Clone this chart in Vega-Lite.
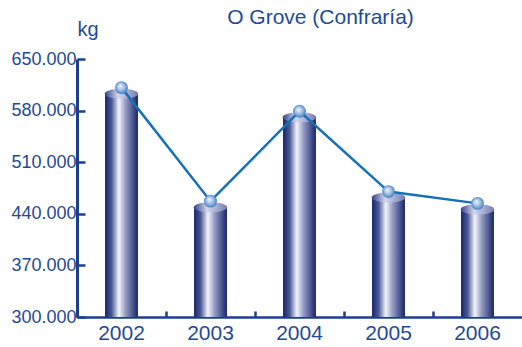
{
  "$schema": "https://vega.github.io/schema/vega-lite/v6.json",
  "width": 445,
  "height": 258,
  "autosize": "none",
  "padding": {"left": 77, "top": 59, "right": 0, "bottom": 30},
  "background": "white",
  "title": {
    "text": "O Grove (Confraría)",
    "anchor": "middle",
    "dx": 21,
    "offset": -26,
    "baseline": "alphabetic",
    "font": "Liberation Sans",
    "fontSize": 21,
    "fontWeight": "normal",
    "color": "#1f4a98"
  },
  "config": {
    "view": {"stroke": null},
    "font": "Liberation Sans"
  },
  "data": {
    "values": [
      {"year": "2002", "kg": 603000},
      {"year": "2003", "kg": 449000},
      {"year": "2004", "kg": 571000},
      {"year": "2005", "kg": 462000},
      {"year": "2006", "kg": 446000}
    ]
  },
  "encoding": {
    "x": {
      "field": "year",
      "type": "ordinal",
      "scale": {"paddingInner": 0, "paddingOuter": 0},
      "axis": {
        "title": null,
        "labelAngle": 0,
        "labelFontSize": 21,
        "labelColor": "#1f4a98",
        "labelPadding": 11,
        "bandPosition": 0,
        "tickSize": -6,
        "tickWidth": 2.5,
        "tickColor": "#1b3f8c",
        "domainColor": "#1b3f8c",
        "domainWidth": 2.5,
        "grid": false
      }
    },
    "y": {
      "field": "kg",
      "type": "quantitative",
      "scale": {"domain": [300000, 650000], "zero": false, "nice": false},
      "axis": {
        "title": "kg",
        "titleAngle": 0,
        "titleX": 0,
        "titleY": -24,
        "titleAlign": "left",
        "titleBaseline": "alphabetic",
        "titleFontSize": 20,
        "titleFontWeight": "normal",
        "titleColor": "#1f4a98",
        "values": [300000, 370000, 440000, 510000, 580000, 650000],
        "labelExpr": "format(datum.value / 1000, 'd') + '.000'",
        "labelFontSize": 18,
        "labelColor": "#1f4a98",
        "labelPadding": 9,
        "tickSize": -8,
        "tickWidth": 2.5,
        "tickColor": "#1b3f8c",
        "domainColor": "#1b3f8c",
        "domainWidth": 3,
        "grid": false
      }
    }
  },
  "layer": [
    {
      "mark": {
        "type": "bar",
        "width": {"band": 0.37},
        "color": {
          "gradient": "linear",
          "x1": 0, "y1": 0, "x2": 1, "y2": 0,
          "stops": [
            {"offset": 0, "color": "#17256a"},
            {"offset": 0.2, "color": "#4a5994"},
            {"offset": 0.42, "color": "#f4f5fb"},
            {"offset": 0.62, "color": "#959cc4"},
            {"offset": 1, "color": "#17256a"}
          ]
        }
      },
      "encoding": {"y2": {"datum": 300000}}
    },
    {
      "mark": {
        "type": "point",
        "shape": "M-1,0 A1,0.3 0 1,0 1,0 A1,0.3 0 1,0 -1,0 Z",
        "size": 1120,
        "filled": true,
        "opacity": 1,
        "color": {
          "gradient": "linear",
          "x1": 0, "y1": 0, "x2": 1, "y2": 0,
          "stops": [
            {"offset": 0, "color": "#34448a"},
            {"offset": 0.4, "color": "#d3d6ee"},
            {"offset": 1, "color": "#737cb2"}
          ]
        }
      }
    },
    {
      "mark": {"type": "line", "color": "#1670b6", "strokeWidth": 2.5, "yOffset": -6}
    },
    {
      "mark": {
        "type": "point",
        "shape": "circle",
        "size": 165,
        "filled": true,
        "opacity": 1,
        "yOffset": -6,
        "color": {
          "gradient": "radial",
          "x1": 0.4, "y1": 0.35, "r1": 0,
          "x2": 0.5, "y2": 0.5, "r2": 0.55,
          "stops": [
            {"offset": 0, "color": "#f2f7fd"},
            {"offset": 0.5, "color": "#9fc0e6"},
            {"offset": 1, "color": "#3a72b8"}
          ]
        }
      }
    }
  ]
}
